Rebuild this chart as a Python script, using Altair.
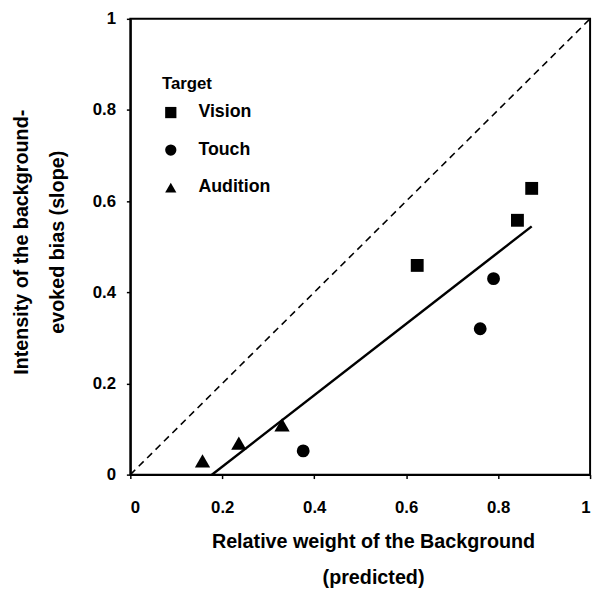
import altair as alt
import pandas as pd

# ---- data ----
target = ["Vision", "Vision", "Vision", "Touch", "Touch", "Touch",
          "Audition", "Audition", "Audition"]
weight = [0.624, 0.842, 0.873, 0.790, 0.761, 0.376, 0.157, 0.236, 0.330]
slope = [0.459, 0.558, 0.628, 0.430, 0.320, 0.052, 0.030, 0.069, 0.109]
ident_x = [0, 1]
ident_y = [0, 1]
tick_values = [0, 0.2, 0.4, 0.6, 0.8, 1]
categories = ["Vision", "Touch", "Audition"]
shapes = ["square", "circle", "triangle-up"]

df = pd.DataFrame({"weight": weight, "slope": slope, "Target": target})
ident = pd.DataFrame({"weight": ident_x, "slope": ident_y})

FONT = "Liberation Sans"

xscale = alt.Scale(domain=[0, 1], nice=False)
yscale = alt.Scale(domain=[0, 1], nice=False)

x_axis = alt.Axis(
    values=tick_values, format="~g", labelPadding=21,
    title=["Relative weight of the Background", "(predicted)"],
    titleX=246, titleY=58, titleBaseline="top", titleAlign="center",
    titleLineHeight=36,
)
y_axis = alt.Axis(
    values=tick_values, format="~g", labelPadding=11,
    title=["Intensity of the background-", "evoked bias (slope)"],
    titleX=-120, titleY=226, titleBaseline="top", titleAlign="center",
    titleAngle=270, titleLineHeight=36,
)

x_enc = alt.X("weight:Q", scale=xscale, axis=x_axis)
y_enc = alt.Y("slope:Q", scale=yscale, axis=y_axis)

legend = alt.Legend(
    title="Target", orient="none", legendX=32, legendY=58,
    titleFontSize=17, labelFontSize=18, titleFont=FONT, labelFont=FONT,
    titleFontWeight="bold", labelFontWeight="bold",
    titleColor="black", labelColor="black",
    symbolSize=130, symbolFillColor="black", symbolStrokeColor="black",
    rowPadding=20, labelOffset=19, titlePadding=11,
)
shape_enc = alt.Shape("Target:N", scale=alt.Scale(domain=categories, range=shapes),
                      legend=legend)

identity = alt.Chart(ident).mark_line(
    color="black", strokeWidth=1.6, strokeDash=[7, 5]
).encode(x=x_enc, y=y_enc)

fit = alt.Chart(df).transform_regression("weight", "slope").mark_line(
    color="black", strokeWidth=2.5, clip=True
).encode(x=x_enc, y=y_enc)

base_pts = alt.Chart(df).encode(x=x_enc, y=y_enc, shape=shape_enc)

sq_circ = base_pts.transform_filter(
    alt.FieldOneOfPredicate(field="Target", oneOf=["Vision", "Touch"])
).mark_point(filled=True, color="black", opacity=1, size=170)

tri = base_pts.transform_filter(
    alt.FieldEqualPredicate(field="Target", equal="Audition")
).mark_point(filled=True, color="black", opacity=1, size=240)

chart = alt.layer(identity, fit, sq_circ, tri).properties(
    width=466, height=462,
    autosize=alt.AutoSizeParams(type="none"),
    padding={"left": 124, "top": 7, "right": 6, "bottom": 115},
    background="white",
).configure_view(
    stroke="black", strokeWidth=2
).configure_axis(
    grid=False, domainColor="black", domainWidth=2,
    tickColor="black", tickWidth=1.5, tickSize=4,
    labelColor="black", labelFont=FONT, labelFontSize=17, labelFontWeight="bold",
    titleColor="black", titleFont=FONT, titleFontSize=20, titleFontWeight="bold",
)

chart.save("out.html", embed_options={"renderer": "svg", "actions": False})
